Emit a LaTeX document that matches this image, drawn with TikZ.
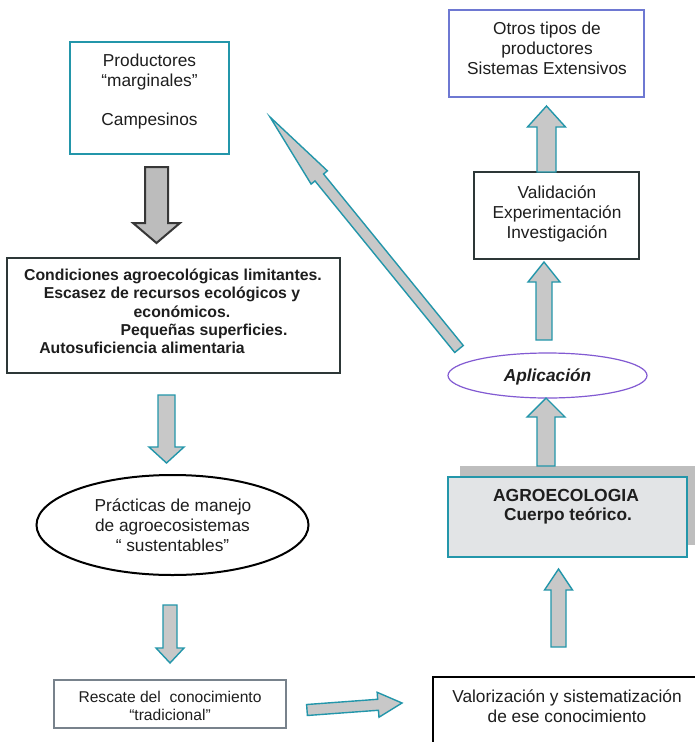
\documentclass[tikz,border=0pt]{standalone}
\usepackage{fontspec}
\setmainfont{Liberation Sans}
\usetikzlibrary{calc,shapes.geometric}
\definecolor{tealc}{RGB}{35,150,170}
\definecolor{arrfill}{RGB}{200,200,200}
\definecolor{bigfill}{RGB}{188,188,188}
\definecolor{bigdraw}{RGB}{55,55,55}
\definecolor{otrosc}{RGB}{110,120,210}
\definecolor{darkc}{RGB}{45,55,55}
\definecolor{rescc}{RGB}{120,130,140}
\definecolor{agrofill}{RGB}{226,228,230}
\definecolor{shadowc}{RGB}{190,190,190}
\definecolor{aplicc}{RGB}{130,90,210}
\definecolor{textc}{RGB}{30,30,30}
\newcommand\barrow[6]{%
  \coordinate (bh) at ($(#3)!#4!(#2)$);
  \filldraw[#1] ($(#2)!#5!90:(#3)$) -- ($(bh)!#5!90:(#3)$) -- ($(bh)!#6!90:(#3)$) -- (#3) -- ($(bh)!#6!-90:(#3)$) -- ($(bh)!#5!-90:(#3)$) -- ($(#2)!#5!-90:(#3)$) -- cycle;}
\begin{document}
\begin{tikzpicture}[x=1pt,y=-1pt,
  txt/.style={inner sep=0pt, anchor=base, text=textc, font=\fontsize{17.3}{20}\selectfont},
  btxt/.style={txt, font=\fontsize{15.8}{18}\selectfont\bfseries},
  stxt/.style={txt, font=\fontsize{15.6}{18}\selectfont},
  box/.style={draw, inner sep=0pt, line width=1.1pt},
  tarrow/.style={draw=tealc, fill=arrfill, line width=1.4pt, line join=miter},
  bigarrow/.style={draw=bigdraw, fill=bigfill, line width=2pt, line join=miter}]
\clip (0,0) rectangle (695,742);
\fill[white] (0,0) rectangle (695,742);

% boxes
\node[box, draw=tealc, minimum width=159pt, minimum height=112pt] (prod) at (149.5,98) {};
\node[box, draw=otrosc, minimum width=195pt, minimum height=87pt] (otros) at (546.5,53.5) {};
\node[box, draw=darkc, minimum width=165pt, minimum height=87pt] (valid) at (556.5,215.5) {};
\node[box, draw=darkc, minimum width=333pt, minimum height=115pt] (cond) at (173.5,315.5) {};
\node[ellipse, draw=black, line width=2pt, minimum width=272pt, minimum height=100pt, inner sep=0pt] (prac) at (172.5,525) {};
\node[box, draw=rescc, minimum width=232pt, minimum height=48pt] (resc) at (170,704) {};
\node[box, draw=black, minimum width=264pt, minimum height=90pt] (valor) at (565,722) {};
\fill[shadowc] (460,466) rectangle (697,545);
\node[box, draw=tealc, fill=agrofill, minimum width=239pt, minimum height=80pt] (agro) at (567.5,517) {};
\node[ellipse, draw=aplicc, line width=1.2pt, minimum width=199pt, minimum height=45pt, inner sep=0pt] (aplic) at (547.5,375.5) {};

% texts
\node[txt] (t1) at (149.5,66) {Productores};
\node[txt] (t2) at (149.5,86) {“marginales”};
\node[txt] (t3) at (149.5,125) {Campesinos};
\node[txt] (t4) at (547,34) {Otros tipos de};
\node[txt] (t5) at (547,54) {productores};
\node[txt] (t6) at (547,74) {Sistemas Extensivos};
\node[txt] (t7) at (557,198) {Validación};
\node[txt] (t8) at (557,218) {Experimentación};
\node[txt] (t9) at (557,238) {Investigación};
\node[btxt] (c1) at (173,280.5) {Condiciones agroecológicas limitantes.};
\node[btxt] (c2) at (172,298.5) {Escasez de recursos ecológicos y};
\node[btxt] (c3) at (182,317) {económicos.};
\node[btxt] (c4) at (204,335) {Pequeñas superficies.};
\node[btxt] (c5) at (142,353) {Autosuficiencia alimentaria};
\node[txt] (p1) at (173,511.5) {Prácticas de manejo};
\node[txt] (p2) at (172.5,531.5) {de agroecosistemas};
\node[txt] (p3) at (172.5,551.5) {“ sustentables”};
\node[stxt] (r1) at (170,702) {Rescate del\ \ conocimiento};
\node[stxt] (r2) at (170,720) {“tradicional”};
\node[txt] (v1) at (567,702) {Valorización y sistematización};
\node[txt] (v2) at (567,722) {de ese conocimiento};
\node[txt, font=\fontsize{17.3}{20}\selectfont\bfseries\itshape] (ap) at (547.5,381) {Aplicación};
\node[txt, font=\fontsize{17.5}{20}\selectfont\bfseries] (g1) at (566,501) {AGROECOLOGIA};
\node[txt, font=\fontsize{17.3}{20}\selectfont\bfseries] (g2) at (568,520.5) {Cuerpo teórico.};

% arrow end points
\coordinate (a1s) at (156.5,167); \coordinate (a1e) at (156.5,243);
\coordinate (a2s) at (166.5,395); \coordinate (a2e) at (166.5,463);
\coordinate (a3s) at (170,605);   \coordinate (a3e) at (170,663);
\coordinate (a4s) at (307,710);   \coordinate (a4e) at (402,703);
\coordinate (a5s) at (558.5,647); \coordinate (a5e) at (558.5,569);
\coordinate (a6s) at (546,466);   \coordinate (a6e) at (546,398);
\coordinate (a7s) at (544,340);   \coordinate (a7e) at (544,262);
\coordinate (a8s) at (546.5,172); \coordinate (a8e) at (546.5,106);
\coordinate (a9s) at (459,349);   \coordinate (a9e) at (270,117);

\barrow{bigarrow}{a1s}{a1e}{20pt}{11.5pt}{23.5pt}
\barrow{tarrow}{a2s}{a2e}{16pt}{8.5pt}{17.5pt}
\barrow{tarrow}{a3s}{a3e}{15pt}{7pt}{14pt}
\barrow{tarrow}{a4s}{a4e}{24pt}{5.5pt}{12.5pt}
\barrow{tarrow}{a5s}{a5e}{21pt}{7.5pt}{14pt}
\barrow{tarrow}{a6s}{a6e}{19pt}{9pt}{19pt}
\barrow{tarrow}{a7s}{a7e}{20pt}{8pt}{16pt}
\barrow{tarrow}{a8s}{a8e}{21pt}{9.5pt}{19pt}
\barrow{tarrow}{a9s}{a9e}{78pt}{5.5pt}{10.5pt}
\end{tikzpicture}
\end{document}
